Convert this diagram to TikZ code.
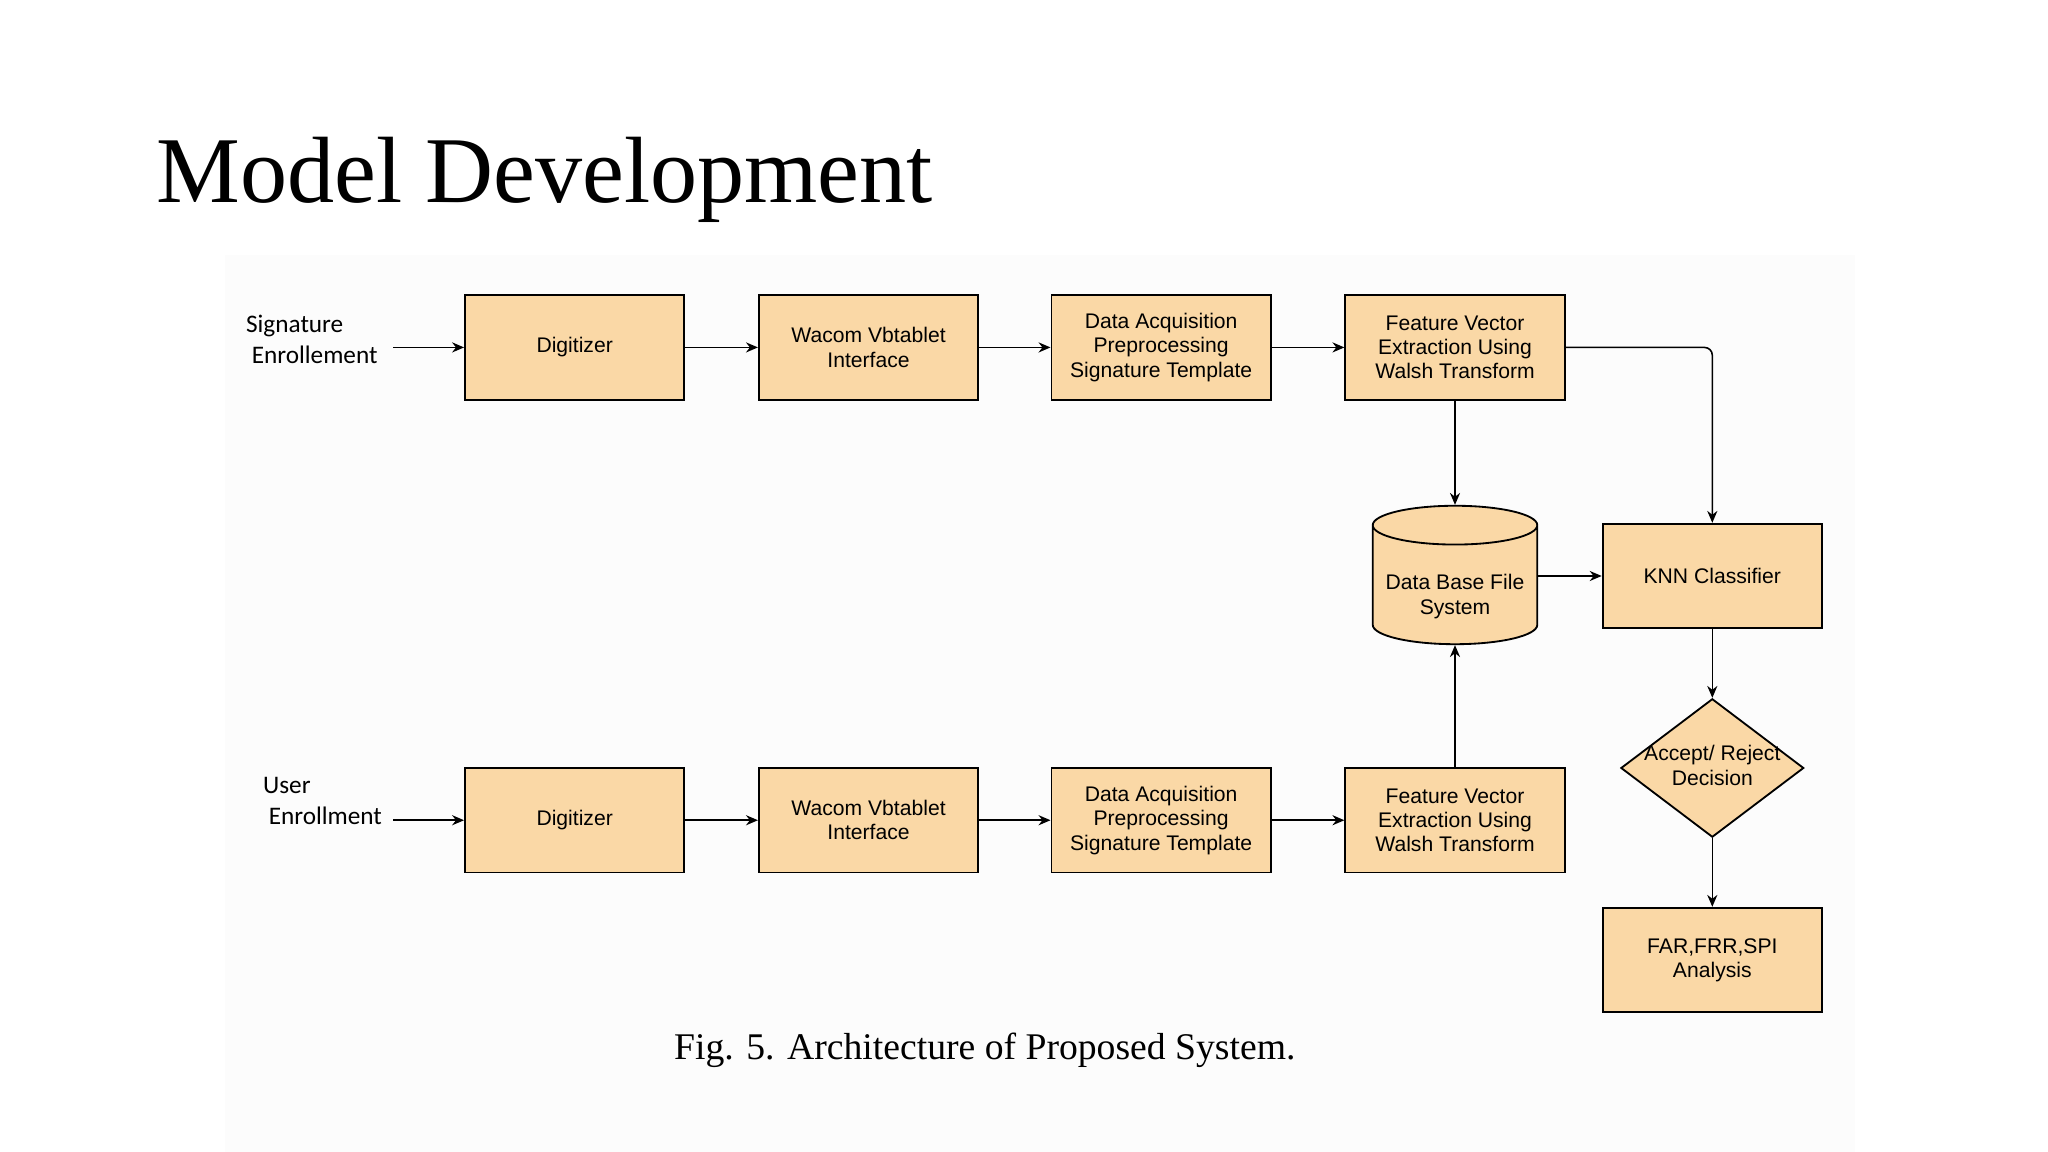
\documentclass[tikz,border=0pt]{standalone}
\usepackage{fontspec}
\setmainfont{Liberation Serif}
\setsansfont{Liberation Sans}
\newfontfamily\calfont{Carlito}
\usetikzlibrary{shapes.geometric,arrows.meta}
\definecolor{boxfill}{HTML}{FAD8A6}
\newlength\pxu \setlength\pxu{0.01cm}
\tikzset{
 blk/.style={draw=black,fill=boxfill,minimum width=168\pxu,minimum height=80\pxu,align=center,font=\sffamily\fontsize{4.6}{5.3}\selectfont,inner sep=0pt},
 arr/.style={-{Stealth[length=2.6pt,width=2.2pt]},line width=0.35pt},
 lbl/.style={font=\calfont\fontsize{5.5}{6.8}\selectfont,align=left}
}
\begin{document}
\begin{tikzpicture}[x=0.01cm,y=-0.01cm]
\useasboundingbox (0,0) rectangle (1568,882);
\fill[white] (0,0) rectangle (1568,882);
\fill[black!1] (172,195) rectangle (1420,882);
\node[anchor=base west,font=\fontsize{20.5}{24}\selectfont,inner sep=0pt] (title) at (119,155) {Model Development};
\node[font=\fontsize{8.2}{10}\selectfont] (cap) at (754,804) {Fig. 5. Architecture of Proposed System.};
% top row
\node[blk] (d1) at (440,266) {Digitizer};
\node[blk] (w1) at (665,266) {Wacom Vbtablet\\Interface};
\node[blk] (a1) at (889,266) {Data Acquisition\\Preprocessing\\Signature Template};
\node[blk] (f1) at (1114,266) {Feature Vector\\Extraction Using\\Walsh Transform};
% bottom row
\node[blk] (d2) at (440,628) {Digitizer};
\node[blk] (w2) at (665,628) {Wacom Vbtablet\\Interface};
\node[blk] (a2) at (889,628) {Data Acquisition\\Preprocessing\\Signature Template};
\node[blk] (f2) at (1114,628) {Feature Vector\\Extraction Using\\Walsh Transform};
% right
\node[blk] (knn) at (1311,441) {KNN Classifier};
\node[draw,fill=boxfill,cylinder,shape border rotate=90,aspect=0.28,minimum width=126\pxu,minimum height=106\pxu,align=center,font=\sffamily\fontsize{4.6}{5.3}\selectfont,inner sep=0pt] (db) at (1114,448) {\\[3pt]Data Base File\\System};
\node[draw,fill=boxfill,diamond,minimum width=140\pxu,minimum height=106\pxu,inner sep=0pt] (dec) at (1311,588) {};
\node[align=center,font=\sffamily\fontsize{4.6}{5.3}\selectfont,inner sep=0pt] (dect) at (1311,586) {Accept/ Reject\\Decision};
\node[blk] (far) at (1311,735) {FAR,FRR,SPI\\Analysis};
% labels
\node[lbl,anchor=west] (s) at (176,260) {Signature\\\ Enrollement};
\node[lbl,anchor=west] (u) at (189,613) {User\\\ Enrollment};
\coordinate (sa) at (301,266);
\coordinate (ua) at (301,628);
\draw[arr] (sa) -- (d1);
\draw[arr] (ua) -- (d2);
\draw[arr] (d1) -- (w1); \draw[arr] (w1) -- (a1); \draw[arr] (a1) -- (f1);
\draw[arr] (d2) -- (w2); \draw[arr] (w2) -- (a2); \draw[arr] (a2) -- (f2);
\draw[arr] (f1) -- (db.top);
\draw[arr] (f2) -- (db.bottom);
\draw[arr,rounded corners=6\pxu] (f1.east) -| (knn.north);
\draw[arr] (db.east |- knn.west) -- (knn.west);
\draw[arr] (knn) -- (dec.north);
\draw[arr] (dec.south) -- (far);
\end{tikzpicture}
\end{document}
